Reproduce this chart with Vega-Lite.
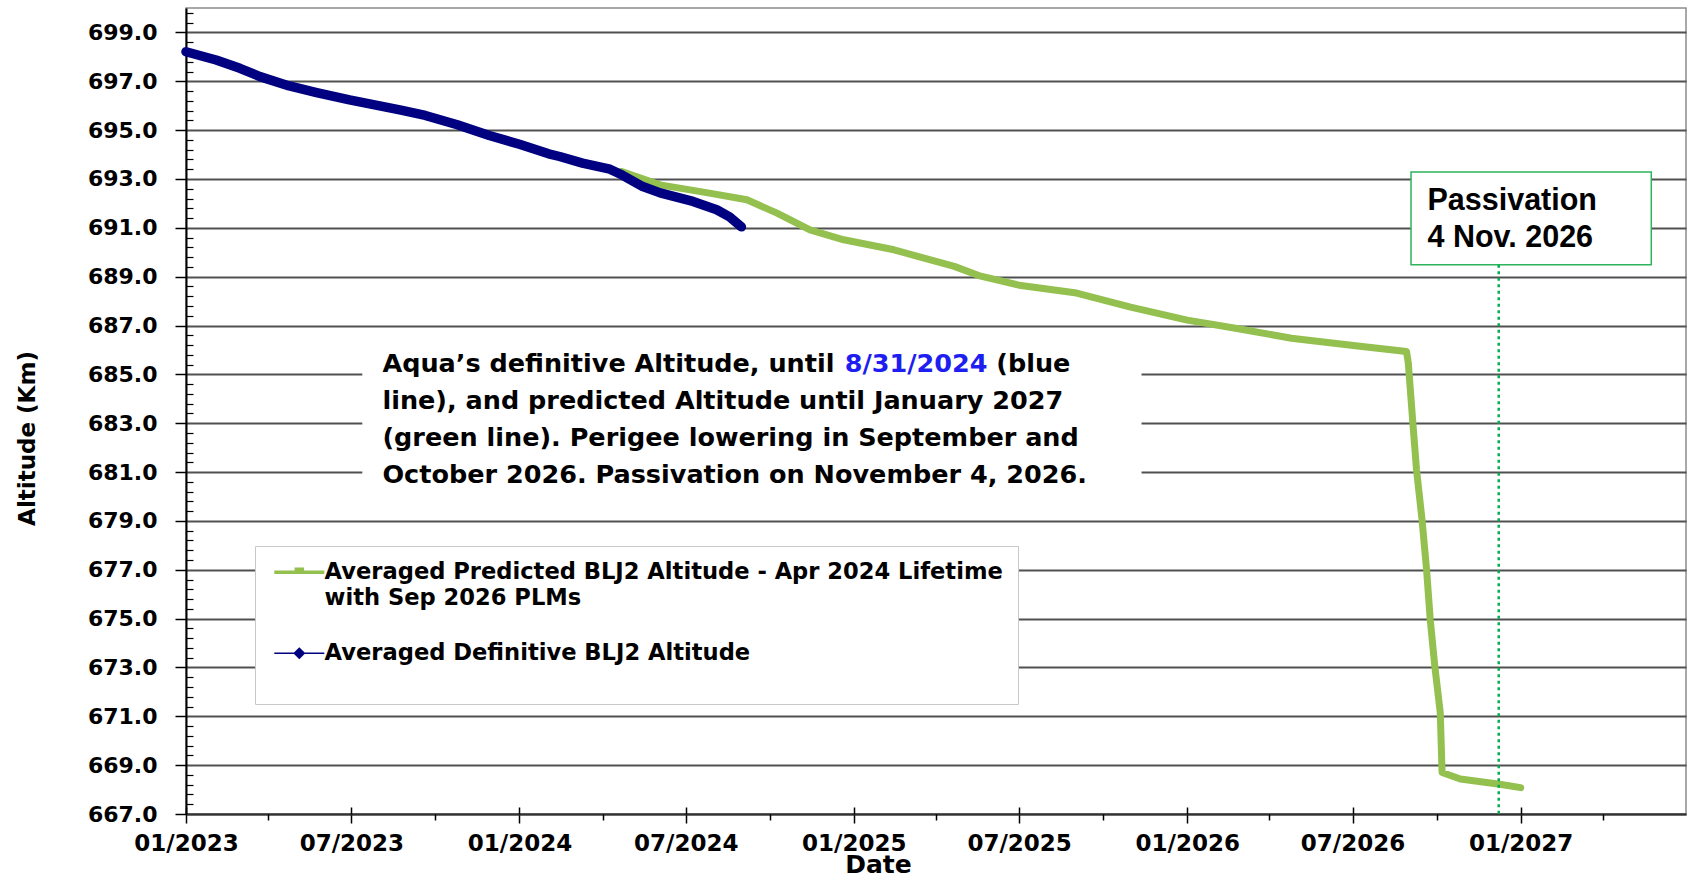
{
  "$schema": "https://vega.github.io/schema/vega-lite/v6.json",
  "width": 1500,
  "height": 806,
  "autosize": {"type": "none"},
  "padding": {"left": 186, "top": 8, "right": 2, "bottom": 63},
  "background": "white",
  "datasets": {
    "alt": [
      {"series": "Averaged Predicted BLJ2 Altitude - Apr 2024 Lifetime with Sep 2026 PLMs", "date": "2024-04-22", "altitude": 693.30},
      {"series": "Averaged Predicted BLJ2 Altitude - Apr 2024 Lifetime with Sep 2026 PLMs", "date": "2024-06-03", "altitude": 692.76},
      {"series": "Averaged Predicted BLJ2 Altitude - Apr 2024 Lifetime with Sep 2026 PLMs", "date": "2024-07-27", "altitude": 692.42},
      {"series": "Averaged Predicted BLJ2 Altitude - Apr 2024 Lifetime with Sep 2026 PLMs", "date": "2024-09-06", "altitude": 692.15},
      {"series": "Averaged Predicted BLJ2 Altitude - Apr 2024 Lifetime with Sep 2026 PLMs", "date": "2024-10-09", "altitude": 691.60},
      {"series": "Averaged Predicted BLJ2 Altitude - Apr 2024 Lifetime with Sep 2026 PLMs", "date": "2024-11-14", "altitude": 690.92},
      {"series": "Averaged Predicted BLJ2 Altitude - Apr 2024 Lifetime with Sep 2026 PLMs", "date": "2024-12-21", "altitude": 690.51},
      {"series": "Averaged Predicted BLJ2 Altitude - Apr 2024 Lifetime with Sep 2026 PLMs", "date": "2025-02-14", "altitude": 690.10},
      {"series": "Averaged Predicted BLJ2 Altitude - Apr 2024 Lifetime with Sep 2026 PLMs", "date": "2025-03-15", "altitude": 689.80},
      {"series": "Averaged Predicted BLJ2 Altitude - Apr 2024 Lifetime with Sep 2026 PLMs", "date": "2025-04-21", "altitude": 689.42},
      {"series": "Averaged Predicted BLJ2 Altitude - Apr 2024 Lifetime with Sep 2026 PLMs", "date": "2025-05-20", "altitude": 689.02},
      {"series": "Averaged Predicted BLJ2 Altitude - Apr 2024 Lifetime with Sep 2026 PLMs", "date": "2025-07-01", "altitude": 688.65},
      {"series": "Averaged Predicted BLJ2 Altitude - Apr 2024 Lifetime with Sep 2026 PLMs", "date": "2025-09-02", "altitude": 688.33},
      {"series": "Averaged Predicted BLJ2 Altitude - Apr 2024 Lifetime with Sep 2026 PLMs", "date": "2025-10-31", "altitude": 687.75},
      {"series": "Averaged Predicted BLJ2 Altitude - Apr 2024 Lifetime with Sep 2026 PLMs", "date": "2026-01-01", "altitude": 687.22},
      {"series": "Averaged Predicted BLJ2 Altitude - Apr 2024 Lifetime with Sep 2026 PLMs", "date": "2026-02-26", "altitude": 686.87},
      {"series": "Averaged Predicted BLJ2 Altitude - Apr 2024 Lifetime with Sep 2026 PLMs", "date": "2026-04-25", "altitude": 686.48},
      {"series": "Averaged Predicted BLJ2 Altitude - Apr 2024 Lifetime with Sep 2026 PLMs", "date": "2026-07-09", "altitude": 686.15},
      {"series": "Averaged Predicted BLJ2 Altitude - Apr 2024 Lifetime with Sep 2026 PLMs", "date": "2026-08-29", "altitude": 685.94},
      {"series": "Averaged Predicted BLJ2 Altitude - Apr 2024 Lifetime with Sep 2026 PLMs", "date": "2026-08-31", "altitude": 685.47},
      {"series": "Averaged Predicted BLJ2 Altitude - Apr 2024 Lifetime with Sep 2026 PLMs", "date": "2026-09-05", "altitude": 683.01},
      {"series": "Averaged Predicted BLJ2 Altitude - Apr 2024 Lifetime with Sep 2026 PLMs", "date": "2026-09-09", "altitude": 681.10},
      {"series": "Averaged Predicted BLJ2 Altitude - Apr 2024 Lifetime with Sep 2026 PLMs", "date": "2026-09-15", "altitude": 679.06},
      {"series": "Averaged Predicted BLJ2 Altitude - Apr 2024 Lifetime with Sep 2026 PLMs", "date": "2026-09-20", "altitude": 677.01},
      {"series": "Averaged Predicted BLJ2 Altitude - Apr 2024 Lifetime with Sep 2026 PLMs", "date": "2026-09-24", "altitude": 674.97},
      {"series": "Averaged Predicted BLJ2 Altitude - Apr 2024 Lifetime with Sep 2026 PLMs", "date": "2026-09-29", "altitude": 673.06},
      {"series": "Averaged Predicted BLJ2 Altitude - Apr 2024 Lifetime with Sep 2026 PLMs", "date": "2026-10-05", "altitude": 671.15},
      {"series": "Averaged Predicted BLJ2 Altitude - Apr 2024 Lifetime with Sep 2026 PLMs", "date": "2026-10-07", "altitude": 668.70},
      {"series": "Averaged Predicted BLJ2 Altitude - Apr 2024 Lifetime with Sep 2026 PLMs", "date": "2026-10-27", "altitude": 668.43},
      {"series": "Averaged Predicted BLJ2 Altitude - Apr 2024 Lifetime with Sep 2026 PLMs", "date": "2026-12-09", "altitude": 668.22},
      {"series": "Averaged Predicted BLJ2 Altitude - Apr 2024 Lifetime with Sep 2026 PLMs", "date": "2027-01-01", "altitude": 668.08},
      {"series": "Averaged Definitive BLJ2 Altitude", "date": "2023-01-01", "altitude": 698.21},
      {"series": "Averaged Definitive BLJ2 Altitude", "date": "2023-02-03", "altitude": 697.87},
      {"series": "Averaged Definitive BLJ2 Altitude", "date": "2023-03-01", "altitude": 697.53},
      {"series": "Averaged Definitive BLJ2 Altitude", "date": "2023-03-23", "altitude": 697.19},
      {"series": "Averaged Definitive BLJ2 Altitude", "date": "2023-04-24", "altitude": 696.81},
      {"series": "Averaged Definitive BLJ2 Altitude", "date": "2023-05-24", "altitude": 696.54},
      {"series": "Averaged Definitive BLJ2 Altitude", "date": "2023-06-29", "altitude": 696.24},
      {"series": "Averaged Definitive BLJ2 Altitude", "date": "2023-08-23", "altitude": 695.83},
      {"series": "Averaged Definitive BLJ2 Altitude", "date": "2023-09-20", "altitude": 695.60},
      {"series": "Averaged Definitive BLJ2 Altitude", "date": "2023-10-25", "altitude": 695.22},
      {"series": "Averaged Definitive BLJ2 Altitude", "date": "2023-11-29", "altitude": 694.78},
      {"series": "Averaged Definitive BLJ2 Altitude", "date": "2024-01-01", "altitude": 694.42},
      {"series": "Averaged Definitive BLJ2 Altitude", "date": "2024-02-02", "altitude": 694.03},
      {"series": "Averaged Definitive BLJ2 Altitude", "date": "2024-02-14", "altitude": 693.92},
      {"series": "Averaged Definitive BLJ2 Altitude", "date": "2024-03-10", "altitude": 693.65},
      {"series": "Averaged Definitive BLJ2 Altitude", "date": "2024-04-09", "altitude": 693.40},
      {"series": "Averaged Definitive BLJ2 Altitude", "date": "2024-04-22", "altitude": 693.17},
      {"series": "Averaged Definitive BLJ2 Altitude", "date": "2024-05-15", "altitude": 692.69},
      {"series": "Averaged Definitive BLJ2 Altitude", "date": "2024-06-03", "altitude": 692.43},
      {"series": "Averaged Definitive BLJ2 Altitude", "date": "2024-07-09", "altitude": 692.08},
      {"series": "Averaged Definitive BLJ2 Altitude", "date": "2024-08-04", "altitude": 691.74},
      {"series": "Averaged Definitive BLJ2 Altitude", "date": "2024-08-18", "altitude": 691.45},
      {"series": "Averaged Definitive BLJ2 Altitude", "date": "2024-08-31", "altitude": 691.04}
    ]
  },
  "layer": [
    {
      "data": {"name": "alt"},
      "transform": [{"filter": "datum.series !== 'Averaged Definitive BLJ2 Altitude'"}],
      "mark": {"type": "line", "strokeWidth": 7, "strokeCap": "round", "strokeJoin": "round"},
      "encoding": {
        "x": {
          "field": "date", "type": "temporal",
          "scale": {"type": "utc", "domain": [{"year": 2023, "month": 1, "date": 1, "utc": true}, {"year": 2027, "month": 7, "date": 1, "utc": true}]},
          "axis": {
            "orient": "bottom",
            "values": [
              {"year": 2023, "month": 1, "date": 1, "utc": true}, {"year": 2023, "month": 7, "date": 1, "utc": true},
              {"year": 2024, "month": 1, "date": 1, "utc": true}, {"year": 2024, "month": 7, "date": 1, "utc": true},
              {"year": 2025, "month": 1, "date": 1, "utc": true}, {"year": 2025, "month": 7, "date": 1, "utc": true},
              {"year": 2026, "month": 1, "date": 1, "utc": true}, {"year": 2026, "month": 7, "date": 1, "utc": true},
              {"year": 2027, "month": 1, "date": 1, "utc": true}
            ],
            "format": "%m/%Y",
            "tickSize": 9, "tickWidth": 1.5, "labelPadding": 9, "labelFontSize": 23,
            "labelFlush": false, "labelOverlap": false, "grid": false,
            "domainWidth": 2, "domainColor": "#333333",
            "title": "Date", "titleFontSize": 25, "titleX": 692, "titleY": 58,
            "titleBaseline": "alphabetic", "titleAlign": "center"
          }
        },
        "y": {
          "field": "altitude", "type": "quantitative",
          "scale": {"domain": [667, 700], "nice": false, "zero": false},
          "axis": {
            "orient": "left",
            "values": [667, 669, 671, 673, 675, 677, 679, 681, 683, 685, 687, 689, 691, 693, 695, 697, 699],
            "format": ".1f",
            "tickSize": 11, "tickWidth": 1.5, "labelPadding": 18, "labelFontSize": 22,
            "grid": true, "gridColor": "#505050", "gridWidth": 1.8,
            "domainWidth": 2,
            "title": "Altitude (Km)", "titleFontSize": 23, "titleX": -159, "titleY": 430,
            "titleBaseline": "middle", "titleAlign": "center"
          }
        },
        "color": {
          "field": "series", "type": "nominal",
          "scale": {
            "domain": ["Averaged Predicted BLJ2 Altitude - Apr 2024 Lifetime with Sep 2026 PLMs", "Averaged Definitive BLJ2 Altitude"],
            "range": ["#93C04F", "#000080"]
          },
          "legend": {
            "orient": "none", "legendX": 69, "legendY": 538,
            "title": " ", "titleOrient": "bottom", "titleFontSize": 16, "titlePadding": 8,
            "fillColor": "white", "strokeColor": "#c8c8c8",
            "padding": 15, "rowPadding": 32,
            "symbolType": "M-1,0H1M0,-0.22L0.22,0L0,0.22L-0.22,0Z",
            "symbolSize": 2500, "symbolStrokeWidth": 2, "symbolOffset": 18,
            "labelOffset": 14,
            "labelFont": "DejaVu Sans", "labelFontWeight": "bold", "labelFontSize": 22.6, "labelColor": "black",
            "labelLimit": 900,
            "labelExpr": "datum.value === 'Averaged Definitive BLJ2 Altitude' ? datum.label : ['Averaged Predicted BLJ2 Altitude - Apr 2024 Lifetime', 'with Sep 2026 PLMs']",
            "encode": {
              "symbols": {"update": {
                "fill": {"scale": "color", "field": "value"},
                "shape": {"signal": "datum.value === 'Averaged Definitive BLJ2 Altitude' ? 'M-1,0H1M0,-0.2L0.2,0L0,0.2L-0.2,0Z' : 'M-1,0H1M-0.12,-0.12H0.12V0H-0.12Z'"},
                "strokeWidth": {"signal": "datum.value === 'Averaged Definitive BLJ2 Altitude' ? 1.5 : 3.5"}
              }},
              "labels": {"update": {"lineHeight": {"value": 26}}}
            }
          }
        }
      }
    },
    {
      "data": {"name": "alt"},
      "transform": [{"filter": "datum.series === 'Averaged Definitive BLJ2 Altitude'"}],
      "mark": {"type": "line", "strokeWidth": 9.5, "strokeCap": "round", "strokeJoin": "round"},
      "encoding": {
        "x": {"field": "date", "type": "temporal", "scale": {"type": "utc", "domain": [{"year": 2023, "month": 1, "date": 1, "utc": true}, {"year": 2027, "month": 7, "date": 1, "utc": true}]}, "axis": null},
        "y": {"field": "altitude", "type": "quantitative", "scale": {"domain": [667, 700], "nice": false, "zero": false}, "axis": null},
        "color": {"field": "series", "type": "nominal"}
      }
    },
    {
      "data": {"values": [{}]},
      "mark": {"type": "rect", "fill": "white"},
      "encoding": {
        "x": {
          "datum": {"year": 2023, "month": 7, "date": 13, "utc": true}, "type": "temporal",
          "scale": {"type": "utc", "domain": [{"year": 2023, "month": 1, "date": 1, "utc": true}, {"year": 2027, "month": 7, "date": 1, "utc": true}]},
          "axis": {
            "orient": "bottom",
            "values": [
              {"year": 2023, "month": 4, "date": 1, "utc": true}, {"year": 2023, "month": 10, "date": 1, "utc": true},
              {"year": 2024, "month": 4, "date": 1, "utc": true}, {"year": 2024, "month": 10, "date": 1, "utc": true},
              {"year": 2025, "month": 4, "date": 1, "utc": true}, {"year": 2025, "month": 10, "date": 1, "utc": true},
              {"year": 2026, "month": 4, "date": 1, "utc": true}, {"year": 2026, "month": 10, "date": 1, "utc": true},
              {"year": 2027, "month": 4, "date": 1, "utc": true}
            ],
            "tickSize": 6, "tickWidth": 1.5, "labels": false, "domain": false, "grid": false, "title": null
          }
        },
        "x2": {"datum": {"year": 2025, "month": 11, "date": 12, "utc": true}},
        "y": {
          "datum": 686.4, "type": "quantitative",
          "scale": {"domain": [667, 700], "nice": false, "zero": false},
          "axis": {
            "orient": "left",
            "values": [667.4, 667.8, 668.2, 668.6, 669.4, 669.8, 670.2, 670.6, 671.4, 671.8, 672.2, 672.6, 673.4, 673.8, 674.2, 674.6, 675.4, 675.8, 676.2, 676.6, 677.4, 677.8, 678.2, 678.6, 679.4, 679.8, 680.2, 680.6, 681.4, 681.8, 682.2, 682.6, 683.4, 683.8, 684.2, 684.6, 685.4, 685.8, 686.2, 686.6, 687.4, 687.8, 688.2, 688.6, 689.4, 689.8, 690.2, 690.6, 691.4, 691.8, 692.2, 692.6, 693.4, 693.8, 694.2, 694.6, 695.4, 695.8, 696.2, 696.6, 697.4, 697.8, 698.2, 698.6, 699.4, 699.8],
            "tickSize": -7, "tickWidth": 1.2, "labels": false, "domain": false, "grid": false, "title": null
          }
        },
        "y2": {"datum": 680.1}
      }
    },
    {
      "data": {"values": [{}]},
      "mark": {
        "type": "text", "align": "left", "baseline": "alphabetic",
        "font": "DejaVu Sans", "fontWeight": "bold", "fontSize": 25.5, "lineHeight": 37, "color": "black",
        "text": ["Aqua’s definitive Altitude, until", "line), and predicted Altitude until January 2027", "(green line). Perigee lowering in September and", "October 2026. Passivation on November 4, 2026."]
      },
      "encoding": {
        "x": {"datum": {"year": 2023, "month": 8, "date": 4, "utc": true}, "type": "temporal", "scale": {"type": "utc", "domain": [{"year": 2023, "month": 1, "date": 1, "utc": true}, {"year": 2027, "month": 7, "date": 1, "utc": true}]}, "axis": null},
        "y": {"datum": 685.11, "type": "quantitative", "scale": {"domain": [667, 700], "nice": false, "zero": false}, "axis": null}
      }
    },
    {
      "data": {"values": [{}]},
      "mark": {
        "type": "text", "align": "left", "baseline": "alphabetic",
        "font": "DejaVu Sans", "fontWeight": "bold", "fontSize": 25.5, "color": "#1E1EF0",
        "text": "8/31/2024"
      },
      "encoding": {
        "x": {"datum": {"year": 2024, "month": 12, "date": 22, "utc": true}, "type": "temporal", "scale": {"type": "utc", "domain": [{"year": 2023, "month": 1, "date": 1, "utc": true}, {"year": 2027, "month": 7, "date": 1, "utc": true}]}, "axis": null},
        "y": {"datum": 685.11, "type": "quantitative", "scale": {"domain": [667, 700], "nice": false, "zero": false}, "axis": null}
      }
    },
    {
      "data": {"values": [{}]},
      "mark": {
        "type": "text", "align": "left", "baseline": "alphabetic",
        "font": "DejaVu Sans", "fontWeight": "bold", "fontSize": 25.5, "color": "black",
        "text": "(blue"
      },
      "encoding": {
        "x": {"datum": {"year": 2025, "month": 6, "date": 6, "utc": true}, "type": "temporal", "scale": {"type": "utc", "domain": [{"year": 2023, "month": 1, "date": 1, "utc": true}, {"year": 2027, "month": 7, "date": 1, "utc": true}]}, "axis": null},
        "y": {"datum": 685.11, "type": "quantitative", "scale": {"domain": [667, 700], "nice": false, "zero": false}, "axis": null}
      }
    },
    {
      "data": {"values": [{}]},
      "mark": {"type": "rect", "fill": "white", "stroke": "#2EB35B", "strokeWidth": 1.5},
      "encoding": {
        "x": {
          "datum": {"year": 2026, "month": 9, "date": 3, "utc": true}, "type": "temporal",
          "scale": {"type": "utc", "domain": [{"year": 2023, "month": 1, "date": 1, "utc": true}, {"year": 2027, "month": 7, "date": 1, "utc": true}]},
          "axis": {
            "orient": "bottom",
            "values": [
              {"year": 2023, "month": 1, "date": 1, "utc": true}, {"year": 2023, "month": 7, "date": 1, "utc": true},
              {"year": 2024, "month": 1, "date": 1, "utc": true}, {"year": 2024, "month": 7, "date": 1, "utc": true},
              {"year": 2025, "month": 1, "date": 1, "utc": true}, {"year": 2025, "month": 7, "date": 1, "utc": true},
              {"year": 2026, "month": 1, "date": 1, "utc": true}, {"year": 2026, "month": 7, "date": 1, "utc": true},
              {"year": 2027, "month": 1, "date": 1, "utc": true}
            ],
            "tickSize": -7, "tickWidth": 1.5, "labels": false, "domain": false, "grid": false, "title": null
          }
        },
        "x2": {"datum": {"year": 2027, "month": 5, "date": 24, "utc": true}},
        "y": {"datum": 693.29, "type": "quantitative", "scale": {"domain": [667, 700], "nice": false, "zero": false}, "axis": null},
        "y2": {"datum": 689.49}
      }
    },
    {
      "data": {"values": [{}]},
      "mark": {
        "type": "text", "align": "left", "baseline": "alphabetic",
        "font": "Liberation Sans", "fontWeight": "bold", "fontSize": 30.5, "lineHeight": 36.5, "color": "black",
        "text": ["Passivation", "4 Nov. 2026"]
      },
      "encoding": {
        "x": {"datum": {"year": 2026, "month": 9, "date": 21, "utc": true}, "type": "temporal", "scale": {"type": "utc", "domain": [{"year": 2023, "month": 1, "date": 1, "utc": true}, {"year": 2027, "month": 7, "date": 1, "utc": true}]}, "axis": null},
        "y": {"datum": 691.71, "type": "quantitative", "scale": {"domain": [667, 700], "nice": false, "zero": false}, "axis": null}
      }
    },
    {
      "data": {"values": [{}]},
      "mark": {"type": "rule", "color": "#00B050", "strokeWidth": 2.5, "strokeDash": [3, 3.5]},
      "encoding": {
        "x": {"datum": {"year": 2026, "month": 12, "date": 8, "utc": true}, "type": "temporal", "scale": {"type": "utc", "domain": [{"year": 2023, "month": 1, "date": 1, "utc": true}, {"year": 2027, "month": 7, "date": 1, "utc": true}]}, "axis": null},
        "y": {"datum": 689.49, "type": "quantitative", "scale": {"domain": [667, 700], "nice": false, "zero": false}, "axis": null},
        "y2": {"datum": 667}
      }
    }
  ],
  "resolve": {"axis": {"x": "independent", "y": "independent"}},
  "config": {
    "font": "DejaVu Sans",
    "view": {"stroke": "#8c8c8c", "strokeWidth": 1.5},
    "axis": {
      "labelFont": "DejaVu Sans", "labelFontWeight": "bold", "labelColor": "black",
      "titleFont": "DejaVu Sans", "titleFontWeight": "bold", "titleColor": "black",
      "tickColor": "black", "domainColor": "black"
    }
  }
}
